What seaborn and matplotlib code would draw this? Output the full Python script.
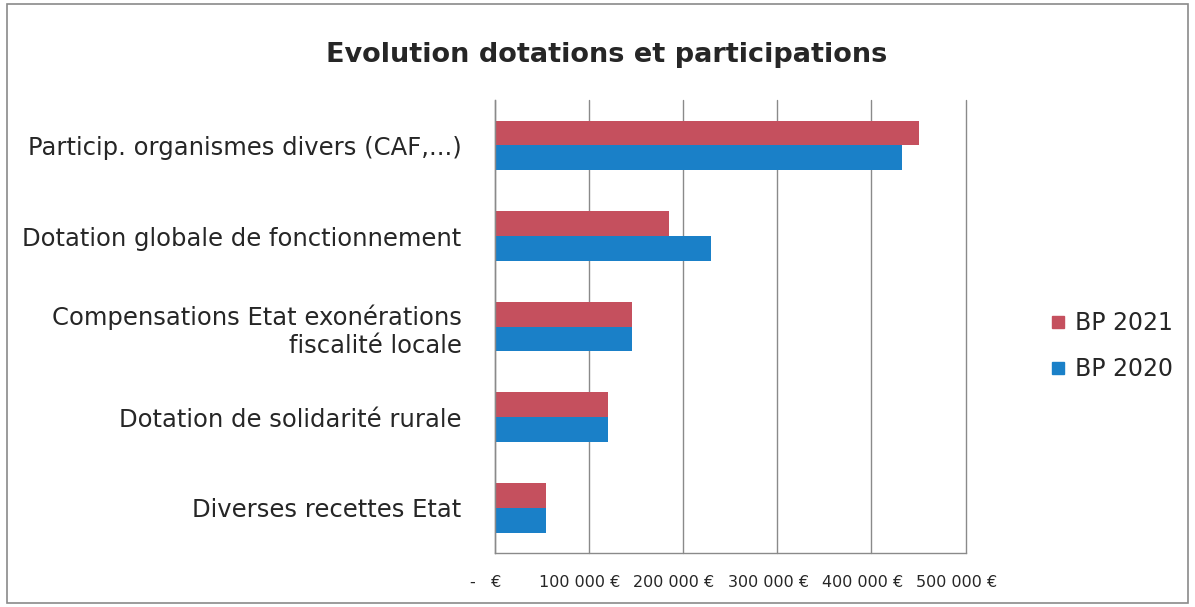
import matplotlib
matplotlib.use("Agg")
import matplotlib.pyplot as plt
import seaborn as sns
import pandas as pd
from matplotlib.ticker import FuncFormatter, MultipleLocator
from matplotlib.patches import Rectangle
from matplotlib.lines import Line2D
from matplotlib.transforms import ScaledTranslation

categories = [
    "Particip. organismes divers (CAF,...)",
    "Dotation globale de fonctionnement",
    "Compensations Etat exonérations\nfiscalité locale",
    "Dotation de solidarité rurale",
    "Diverses recettes Etat",
]
bp2021 = [451000, 185000, 146000, 120000, 54000]
bp2020 = [432000, 230000, 146000, 120000, 54000]
series = ["BP 2021", "BP 2020"]
colors = ["#C5505E", "#1A80C8"]

df = pd.DataFrame({
    "cat": categories * 2,
    "val": bp2021 + bp2020,
    "serie": [series[0]] * len(categories) + [series[1]] * len(categories),
})

sns.set_theme(style="white")
plt.rcParams["font.family"] = ["DejaVu Sans"]

fig = plt.figure(figsize=(11.95, 6.07), dpi=100)
ax = fig.add_axes([0.414, 0.089, 0.394, 0.746])

sns.barplot(data=df, y="cat", x="val", hue="serie", hue_order=series,
            order=categories, palette=colors, orient="h", width=0.55,
            saturation=1, ax=ax, legend=False, linewidth=0)

ax.set_xlim(0, 500000)
ax.xaxis.set_major_locator(MultipleLocator(100000))

def fmt(v, pos):
    if v == 0:
        return "-   €"
    return f"{int(v):,}".replace(",", " ") + " €"

ax.xaxis.set_major_formatter(FuncFormatter(fmt))
ax.grid(axis="x", color="#8a8a8a", linewidth=1)
ax.set_axisbelow(True)
for gl in ax.get_xgridlines():
    gl.set_clip_on(False)
for s in ["top", "right"]:
    ax.spines[s].set_visible(False)
for s in ["left", "bottom"]:
    ax.spines[s].set_color("#8a8a8a")
    ax.spines[s].set_linewidth(1)
ax.set_xlabel("")
ax.set_ylabel("")
ax.tick_params(axis="y", labelsize=17.5, colors="#262626", length=0, pad=24)
ax.tick_params(axis="x", labelsize=11.5, colors="#262626", length=0, pad=16)
for lab in ax.get_yticklabels():
    lab.set_horizontalalignment("right")
    lab.set_multialignment("right")
labs = ax.get_xticklabels()
off0 = ScaledTranslation(4 / 100, 0, fig.dpi_scale_trans)
labs[0].set_transform(labs[0].get_transform() + off0)
off = ScaledTranslation(-9 / 100, 0, fig.dpi_scale_trans)
for lab in labs[1:]:
    lab.set_transform(lab.get_transform() + off)

fig.text(0.508, 0.91, "Evolution dotations et participations", ha="center",
         va="center", fontsize=19.5, fontweight="bold", color="#262626")

handles = [Line2D([0], [0], marker="s", linestyle="none", markersize=9,
                  markerfacecolor=c, markeredgecolor=c) for c in colors]
fig.legend(handles, series, loc="center left", bbox_to_anchor=(0.86, 0.43),
           frameon=False, fontsize=17, labelspacing=0.95, handletextpad=0.3,
           handlelength=0.8, labelcolor="#262626")

fig.patches.append(Rectangle((0.006, 0.006), 0.988, 0.988, transform=fig.transFigure,
                             fill=False, edgecolor="#8a8a8a", linewidth=1.2))

fig.savefig("out.png", dpi=100)
